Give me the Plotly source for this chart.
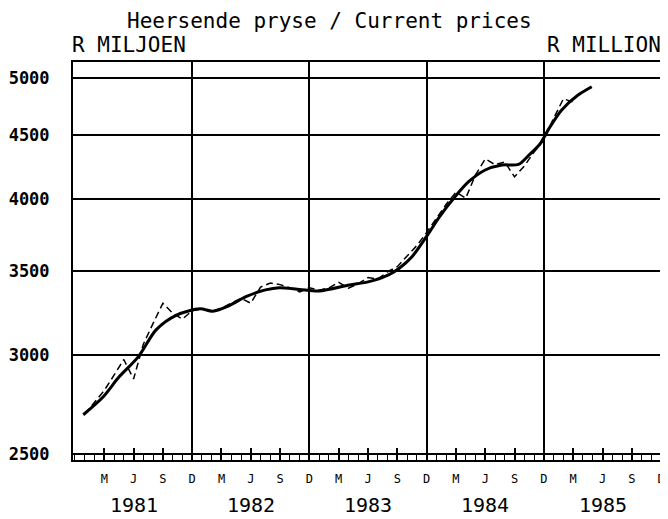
import plotly.graph_objects as go
import math

# ---- data (month index: 0 = Dec 1980, 12 = Dec 1981, ...) ----
actual_month = [1, 2, 3, 4, 5, 6, 7, 8, 9, 10, 11, 12,
                13, 14, 15, 16, 17, 18, 19, 20, 21, 22, 23, 24,
                25, 26, 27, 28, 29, 30, 31, 32, 33, 34, 35, 36,
                37, 38, 39, 40, 41, 42, 43, 44, 45, 46, 47, 48,
                49, 50, 51]
actual_value = [2690, 2750, 2810, 2890, 2975, 2870, 3060, 3180, 3300, 3240, 3205, 3255,
                3265, 3250, 3270, 3300, 3330, 3300, 3400, 3425, 3415, 3395, 3370, 3395,
                3380, 3395, 3430, 3393, 3420, 3460, 3450, 3497, 3530, 3600, 3670, 3760,
                3860, 3960, 4050, 4005, 4180, 4305, 4260, 4280, 4165, 4250, 4360, 4460,
                4640, 4810, 4780]

trend_month = [0.85, 2.9, 4.5, 6.5, 8.3, 10.4, 12.8, 14.1, 15.8, 17.5, 19.5, 20.9,
               23.0, 25.0, 28.1, 30.1, 32.1, 33.2, 34.5, 36.2, 37.2, 38.9, 40.3, 42.0,
               43.7, 45.4, 46.4, 47.6, 48.5, 49.8, 51.5, 52.9]
trend_value = [2687, 2778, 2880, 2991, 3142, 3229, 3266, 3252, 3286, 3340, 3382, 3396,
               3385, 3375, 3413, 3434, 3477, 3520, 3595, 3753, 3859, 4015, 4128, 4218,
               4257, 4262, 4330, 4425, 4550, 4710, 4843, 4918]

quarter_ticks = [3, 6, 9, 12, 15, 18, 21, 24, 27, 30, 33, 36, 39, 42, 45, 48, 51, 54, 57, 60]
quarter_labels = ["M", "J", "S", "D"] * 5
dec_ticks = [12, 24, 36, 48, 60]
dec_grid = [12, 24, 36, 48]
year_pos = [6, 18, 30, 42, 54]
year_labels = ["1981", "1982", "1983", "1984", "1985"]
y_ticks = [2500, 3000, 3500, 4000, 4500, 5000]

FONT = "DejaVu Sans Mono"
xr = [-0.2, 60.5]
yr = [math.log10(2472), math.log10(5147)]

fig = go.Figure()
fig.add_trace(go.Scatter(x=actual_month, y=actual_value, mode="lines",
                         line=dict(color="black", width=1.5, dash="7px,4px"),
                         xaxis="x2", hoverinfo="skip", showlegend=False))
fig.add_trace(go.Scatter(x=trend_month, y=trend_value, mode="lines",
                         line=dict(color="black", width=3, shape="spline", smoothing=0.8),
                         xaxis="x3", hoverinfo="skip", showlegend=False))

fig.update_layout(
    width=660, height=511,
    margin=dict(l=65, r=0, t=54, b=59),
    paper_bgcolor="white", plot_bgcolor="white",
    showlegend=False,
    xaxis=dict(range=xr, tickmode="array", tickvals=quarter_ticks, ticktext=quarter_labels,
               ticks="inside", ticklen=12, tickwidth=1.5, tickcolor="black",
               minor=dict(dtick=1, tick0=0, ticks="inside", ticklen=7, tickwidth=1.2, tickcolor="black"),
               showgrid=False, zeroline=False,
               showline=True, linecolor="black", linewidth=2, mirror=True,
               tickfont=dict(family=FONT, size=12, color="black"),
               ticklabelstandoff=7),
    xaxis2=dict(range=xr, overlaying="x", anchor="y", tickmode="array", tickvals=dec_ticks,
                ticks="inside", ticklen=26, tickwidth=1.5, tickcolor="black",
                showticklabels=False, showgrid=False, zeroline=False, showline=False),
    xaxis3=dict(range=xr, overlaying="x", anchor="y", tickmode="array", tickvals=dec_grid,
                ticks="", showticklabels=False, showgrid=True, gridcolor="black", gridwidth=1.5,
                zeroline=False, showline=False),
    yaxis=dict(type="log", range=yr, tickmode="array", tickvals=y_ticks,
               ticktext=[str(v) for v in y_ticks],
               showgrid=True, gridcolor="black", gridwidth=2, zeroline=False,
               showline=True, linecolor="black", linewidth=2, mirror=True,
               ticks="", tickfont=dict(family=FONT, size=17, color="black", weight="bold"),
               ticklabelstandoff=18),
)

# year labels
for p, t in zip(year_pos, year_labels):
    fig.add_annotation(x=p, y=-0.113, xref="x", yref="paper", text=t, showarrow=False,
                       font=dict(family=FONT, size=20, color="black"),
                       xanchor="center", yanchor="middle")

# titles
fig.add_annotation(x=0.432, y=1.1357, xref="paper", yref="paper",
                   text="Heersende pryse / Current prices", showarrow=False,
                   font=dict(family=FONT, size=21, color="black"),
                   xanchor="center", yanchor="top", borderpad=0)
fig.add_annotation(x=-0.005, y=1.043, xref="paper", yref="paper",
                   text="R MILJOEN", showarrow=False,
                   font=dict(family=FONT, size=21, color="black"),
                   xanchor="left", yanchor="middle")
fig.add_annotation(x=0.995, y=1.043, xref="paper", yref="paper",
                   text="R MILLION", showarrow=False,
                   font=dict(family=FONT, size=21, color="black"),
                   xanchor="right", yanchor="middle")

fig.write_html("out.html")
